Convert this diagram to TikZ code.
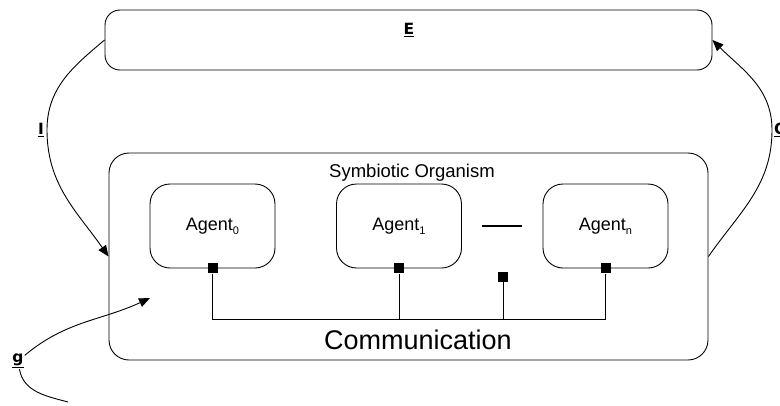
\documentclass[tikz,border=0pt]{standalone}
\usepackage{fontspec}
\setmainfont{Liberation Sans}
\newfontfamily\labfont{DejaVu Sans}
\usetikzlibrary{arrows.meta,positioning,calc}

\newcommand{\agsub}[1]{\raisebox{-4pt}{\fontsize{11}{11}\selectfont #1}}

\begin{document}
\begin{tikzpicture}[x=1pt,y=1pt,>={Triangle[length=11pt,width=9pt]},
  box/.style={draw,rounded corners=20pt,line width=0.9pt},
  agent/.style={box,minimum width=125pt,minimum height=84pt,
    font=\fontsize{18}{20}\selectfont},
  lab/.style={font=\labfont\bfseries\fontsize{15.5}{17}\selectfont,inner sep=1pt},
  port/.style={fill=black,minimum size=10pt,inner sep=0pt},
  flow/.style={->,line width=0.9pt}]
  \useasboundingbox (0,0) rectangle (780,-405);

  % environment and organism
  \node[box,rounded corners=15pt,minimum width=607pt,minimum height=60pt] (env) at (408.5,-40) {};
  \node[lab] (elab) at (409,-30) {\underline{E}};
  \node[box,minimum width=599pt,minimum height=207pt] (org) at (408.5,-256.5) {};
  \node[font=\fontsize{18.5}{20}\selectfont] (orgtitle) at (412,-173) {Symbiotic Organism};

  % agents
  \node[agent] (a0) at (212.5,-226) {Agent\agsub{0}};
  \node[agent] (a1) at (399,-226) {Agent\agsub{1}};
  \node[agent] (an) at (605.5,-226) {Agent\agsub{n}};
  \draw[line width=1.5pt] ($(a1.east)!.25!(an.west)$) -- ($(a1.east)!.75!(an.west)$);

  % communication bus
  \node[port] (p0) at (a0.south) {};
  \node[port] (p1) at (a1.south) {};
  \node[port] (pm) at (503,-277) {};
  \node[port] (pn) at (an.south) {};
  \coordinate (bus) at (0,-319);
  \draw[line width=0.9pt] (p0.south) -- (p0 |- bus) -- (pn |- bus) -- (pn.south);
  \draw[line width=0.9pt] (p1.south) -- (p1 |- bus);
  \draw[line width=0.9pt] (pm.south) -- (pm |- bus);
  \node[font=\fontsize{27}{30}\selectfont] (comm) at (418,-340) {Communication};

  % input / output loops
  \coordinate (ibend) at (47,-130);
  \draw[flow] (env.west) to[out=220,in=90] (ibend) to[out=-90,in=125] (org.west);
  \node[lab,anchor=east] (ilab) at (45,-130) {\underline{I}};
  \coordinate (cbend) at (772,-130);
  \draw[flow] (org.east) to[out=55,in=-90] (cbend) to[out=90,in=-45] (env.east);
  \node[lab,anchor=west] (clab) at (773,-130) {\underline{C}};

  % g
  \coordinate (gstart) at (68,-402);
  \node[lab] (glab) at (18,-361) {\underline{g}};
  \coordinate (gtip) at (150,-298);
  \draw[line width=0.9pt] (gstart) to[out=165,in=-80] (glab);
  \draw[flow] (glab) to[out=40,in=205] (gtip);
\end{tikzpicture}
\end{document}
